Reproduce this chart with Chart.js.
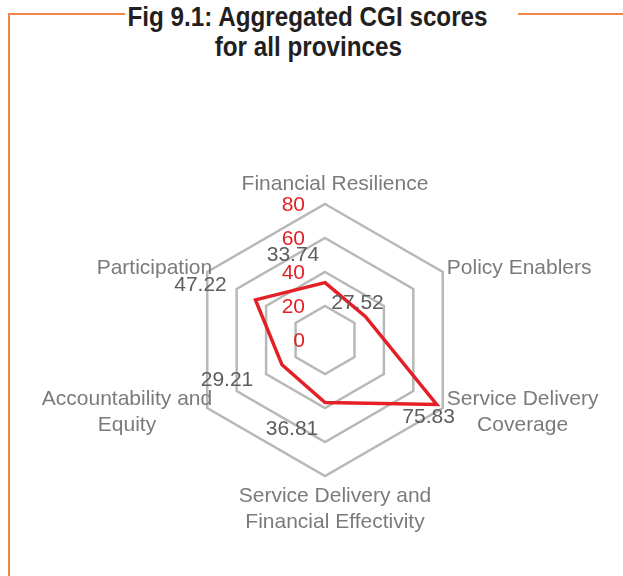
<!DOCTYPE html>
<html>
<head>
<meta charset="utf-8">
<script src="https://cdn.jsdelivr.net/npm/chart.js@4/dist/chart.umd.min.js"></script>
<style>
  html, body { margin: 0; padding: 0; background: #fff; }
  #wrap { position: relative; width: 623px; height: 576px; overflow: hidden; }
  #chart { position: absolute; left: 0; top: 0; }
  .rule { position: absolute; background: #f0854a; }
  #title {
    position: absolute; left: 8px; width: 600px; top: 2px;
    text-align: center; font: bold 27px/30px "Liberation Sans", Arial, sans-serif;
    color: #231f20; white-space: nowrap;
  }
  #title span { display: inline-block; transform-origin: 50% 50%; }
</style>
</head>
<body>
<div id="wrap">
  <div class="rule" style="left:8px; top:13px; width:117px; height:2px;"></div>
  <div class="rule" style="left:518px; top:13px; width:105px; height:2px;"></div>
  <div class="rule" style="left:8px; top:13px; width:2px; height:563px;"></div>
  <div id="title"><span id="t1">Fig 9.1: Aggregated CGI scores</span><br><span id="t2">for all provinces</span></div>
  <canvas id="chart" width="623" height="576"></canvas>
</div>
<script>
'use strict';

/* ---- DATA ------------------------------------------------- */
const categories = [
  'Financial Resilience',
  'Policy Enablers',
  ['Service Delivery', 'Coverage'],
  ['Service Delivery and', 'Financial Effectivity'],
  ['Accountability and', 'Equity'],
  'Participation'
];
const scores = [33.74, 27.52, 75.83, 36.81, 29.21, 47.22];
const tickValues = [0, 20, 40, 60, 80];

/* ---- STYLE ------------------------------------------------ */
const FONT = '"Liberation Sans", Arial, sans-serif';
const RED = '#e41f26';
const GRID = '#b8b8b8';
const LABEL_GREY = '#7b7b7b';
const VALUE_GREY = '#5d5d5d';

// where each value label sits relative to its point (px)
const valueOffsets = [[-32, -27], [-8, -13], [-8, 13], [-33, 27], [-55, 15], [-55, -15]];

/* condensed-looking title: squeeze first line to ~360px */
(function () {
  const t1 = document.getElementById('t1'), t2 = document.getElementById('t2');
  const k = 360 / t1.getBoundingClientRect().width;
  t1.style.transform = t2.style.transform = 'scaleX(' + k + ')';
})();

/* Tick labels: right-aligned just left of the vertical axis */
const tickLabelPlugin = {
  id: 'tickLabels',
  afterDatasetsDraw(chart) {
    const s = chart.scales.r, ctx = chart.ctx;
    ctx.save();
    ctx.font = '21px ' + FONT;
    ctx.fillStyle = RED;
    ctx.textAlign = 'right';
    ctx.textBaseline = 'middle';
    tickValues.forEach(v => {
      const d = s.getDistanceFromCenterForValue(v);
      ctx.fillText(String(v), s.xCenter - 20, s.yCenter - d + 1);
    });
    ctx.restore();
  }
};

/* Axis labels, placed Excel-style around the outer ring */
const axisLabelPlugin = {
  id: 'axisLabels',
  afterDraw(chart) {
    const s = chart.scales.r, ctx = chart.ctx;
    const labels = chart.data.labels;
    const lh = 26;
    ctx.save();
    ctx.font = '21px ' + FONT;
    ctx.fillStyle = LABEL_GREY;
    ctx.textBaseline = 'middle';
    ctx.textAlign = 'center';
    labels.forEach((lab, i) => {
      const lines = Array.isArray(lab) ? lab : [lab];
      const p = s.getPointPosition(i, s.drawingArea);
      const w = Math.max(...lines.map(l => ctx.measureText(l).width));
      const sin = Math.cos(p.angle), cos = Math.sin(p.angle); // x / y components
      let cx, cy;
      if (Math.abs(sin) < 0.1) {
        cx = p.x + 10;
        cy = cos < 0 ? p.y - 20 - (lines.length - 1) * lh : p.y + 20;
      } else {
        cx = sin > 0 ? p.x + 4 + w / 2 : p.x + 5 - w / 2;
        cy = p.y - (lines.length - 1) * lh / 2 + (cos < 0 ? -4 : (lines.length > 1 ? 4 : -10));
      }
      lines.forEach((l, k) => ctx.fillText(l, cx, cy + k * lh));
    });
    ctx.restore();
  }
};

/* Value labels next to each point */
const valueLabelPlugin = {
  id: 'valueLabels',
  afterDatasetsDraw(chart) {
    const meta = chart.getDatasetMeta(0), ctx = chart.ctx;
    ctx.save();
    ctx.font = '21px ' + FONT;
    ctx.fillStyle = VALUE_GREY;
    ctx.textAlign = 'center';
    ctx.textBaseline = 'middle';
    meta.data.forEach((pt, i) => {
      const [dx, dy] = valueOffsets[i];
      ctx.fillText(scores[i].toFixed(2), pt.x + dx, pt.y + dy);
    });
    ctx.restore();
  }
};

new Chart(document.getElementById('chart'), {
  type: 'radar',
  data: {
    labels: categories,
    datasets: [{
      data: scores,
      borderColor: RED,
      borderWidth: 3.5,
      backgroundColor: 'transparent',
      fill: false,
      pointRadius: 0,
      tension: 0
    }]
  },
  options: {
    responsive: false,
    animation: false,
    devicePixelRatio: 1,
    layout: { padding: { left: 189, right: 162, top: 204, bottom: 100 } },
    plugins: { legend: { display: false }, tooltip: { enabled: false }, title: { display: false } },
    scales: {
      r: {
        min: 0,
        max: 80,
        ticks: { stepSize: 20, display: false },
        grid: { color: GRID, lineWidth: 2.5, circular: false },
        angleLines: { display: false },
        pointLabels: { display: false }
      }
    }
  },
  plugins: [tickLabelPlugin, valueLabelPlugin, axisLabelPlugin]
});
</script>
</body>
</html>
